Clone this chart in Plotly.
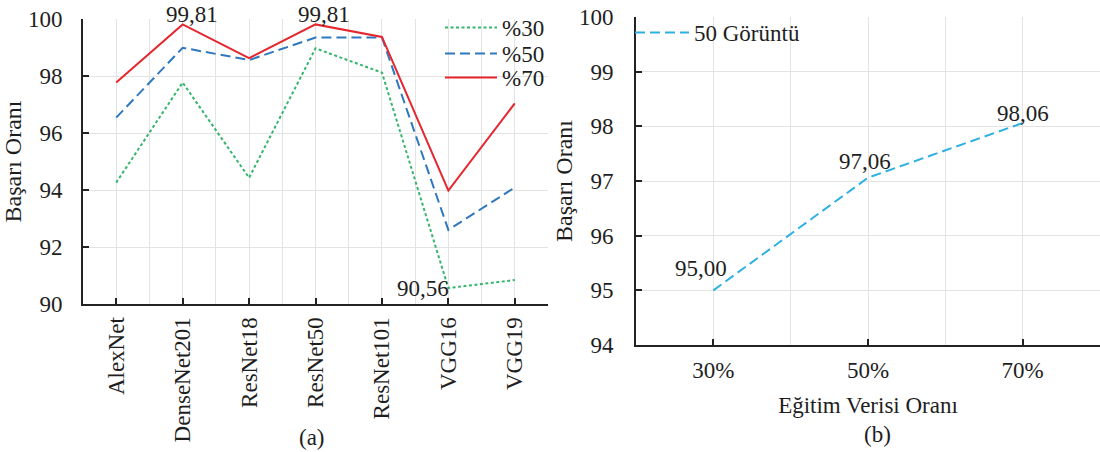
import plotly.graph_objects as go

# ---------------- data ----------------
models = ["AlexNet", "DenseNet201", "ResNet18", "ResNet50", "ResNet101", "VGG16", "VGG19"]
acc_30 = [94.26, 97.77, 94.43, 98.97, 98.12, 90.56, 90.84]
acc_50 = [96.54, 98.99, 98.56, 99.35, 99.35, 92.60, 94.09]
acc_70 = [97.77, 99.81, 98.63, 99.81, 99.37, 93.98, 97.04]

ratios = ["30%", "50%", "70%"]
acc_50img = [95.00, 97.06, 98.06]

W, H = 1100, 452
FONT = "Liberation Serif"
FS = 23
TXT = "#1e1e1e"
GRID = "#e3e3e3"


def px_x(p):
    return p / W


def px_y(p):
    return 1 - p / H


def fmt(v):
    return f"{v:.2f}".replace(".", ",")


xi = list(range(len(models)))
xr = list(range(len(ratios)))

fig = go.Figure()

fig.add_trace(go.Scatter(x=xi, y=acc_30, mode="lines", name="%30",
                         line=dict(color="#35b56c", width=2, dash="3px,2.5px"),
                         xaxis="x", yaxis="y", legend="legend"))
fig.add_trace(go.Scatter(x=xi, y=acc_50, mode="lines", name="%50",
                         line=dict(color="#2f78c0", width=2, dash="10px,5px"),
                         xaxis="x", yaxis="y", legend="legend3"))
fig.add_trace(go.Scatter(x=xi, y=acc_70, mode="lines", name="%70",
                         line=dict(color="#e6262d", width=2),
                         xaxis="x", yaxis="y", legend="legend4"))

fig.add_trace(go.Scatter(x=xr, y=acc_50img, mode="lines", name="50 Görüntü",
                         line=dict(color="#2eb0e2", width=2, dash="10px,5px"),
                         xaxis="x2", yaxis="y2", legend="legend2"))

axis_common = dict(showline=True, linecolor="#222", linewidth=2,
                   ticks="inside", ticklen=6, tickwidth=2, tickcolor="#222",
                   showgrid=True, gridcolor=GRID, gridwidth=1, zeroline=False,
                   automargin=False,
                   tickfont=dict(family=FONT, size=FS, color=TXT))

leg_common = dict(xanchor="left", yanchor="top", bgcolor="rgba(0,0,0,0)",
                  borderwidth=0, font=dict(family=FONT, size=FS, color=TXT))

fig.update_layout(
    width=W, height=H,
    margin=dict(l=0, r=0, t=0, b=0, autoexpand=False),
    paper_bgcolor="white", plot_bgcolor="white",
    font=dict(family=FONT, size=FS, color=TXT),
    xaxis=dict(axis_common, domain=[px_x(83), px_x(548)], anchor="y",
               range=[-0.5, 6.5], tickvals=xi, ticktext=models, tickangle=-90,
               ticklabelstandoff=2,
               minor=dict(tickvals=[i + 0.5 for i in xi[:-1]], showgrid=True,
                          gridcolor=GRID, ticks="")),
    yaxis=dict(axis_common, domain=[px_y(304), px_y(19)], anchor="x",
               range=[90, 100], dtick=2, ticklabelstandoff=14,
               title=dict(text="Başarı Oranı", standoff=0,
                          font=dict(family=FONT, size=FS + 1, color=TXT))),
    xaxis2=dict(axis_common, domain=[px_x(636), 1.0], anchor="y2",
                range=[-0.5, 2.5], tickvals=xr, ticktext=ratios,
                ticklabelstandoff=3,
                minor=dict(tickvals=[i + 0.5 for i in xr[:-1]], showgrid=True,
                           gridcolor=GRID, ticks=""),
                title=dict(text="Eğitim Verisi Oranı", standoff=15,
                           font=dict(family=FONT, size=FS, color=TXT))),
    yaxis2=dict(axis_common, domain=[px_y(345), px_y(17)], anchor="x2",
                range=[94, 100], dtick=1, ticklabelstandoff=16,
                title=dict(text="Başarı Oranı", standoff=0,
                           font=dict(family=FONT, size=FS + 1, color=TXT))),
    legend=dict(leg_common, x=px_x(440), y=px_y(6), itemwidth=52),
    legend3=dict(leg_common, x=px_x(440), y=px_y(32), itemwidth=52),
    legend4=dict(leg_common, x=px_x(440), y=px_y(56), itemwidth=52),
    legend2=dict(leg_common, x=px_x(630), y=px_y(11), itemwidth=54),
    showlegend=True,
)

ann = []
# left panel value labels
ann.append(dict(x=1, y=acc_70[1], xref="x", yref="y", text=fmt(acc_70[1]),
                showarrow=False, yanchor="bottom", xanchor="center", xshift=9, yshift=-5))
ann.append(dict(x=3, y=acc_70[3], xref="x", yref="y", text=fmt(acc_70[3]),
                showarrow=False, yanchor="bottom", xanchor="center", xshift=8, yshift=-5))
ann.append(dict(x=5, y=acc_30[5], xref="x", yref="y", text=fmt(acc_30[5]),
                showarrow=False, yanchor="middle", xanchor="right", xshift=3, yshift=0))
# right panel value labels
shifts = [(-12, 7), (-3, 2), (0, -5)]
for i, v in enumerate(acc_50img):
    ann.append(dict(x=i, y=v, xref="x2", yref="y2", text=fmt(v), showarrow=False,
                    yanchor="bottom", xanchor="center",
                    xshift=shifts[i][0], yshift=shifts[i][1]))
# panel captions
ann.append(dict(x=px_x(312), y=px_y(437), xref="paper", yref="paper", text="(a)",
                showarrow=False, xanchor="center", yanchor="middle"))
ann.append(dict(x=px_x(877), y=px_y(434), xref="paper", yref="paper", text="(b)",
                showarrow=False, xanchor="center", yanchor="middle"))
for a in ann:
    a.setdefault("font", dict(family=FONT, size=FS, color=TXT))
fig.update_layout(annotations=ann)

fig.write_html("out.html")
